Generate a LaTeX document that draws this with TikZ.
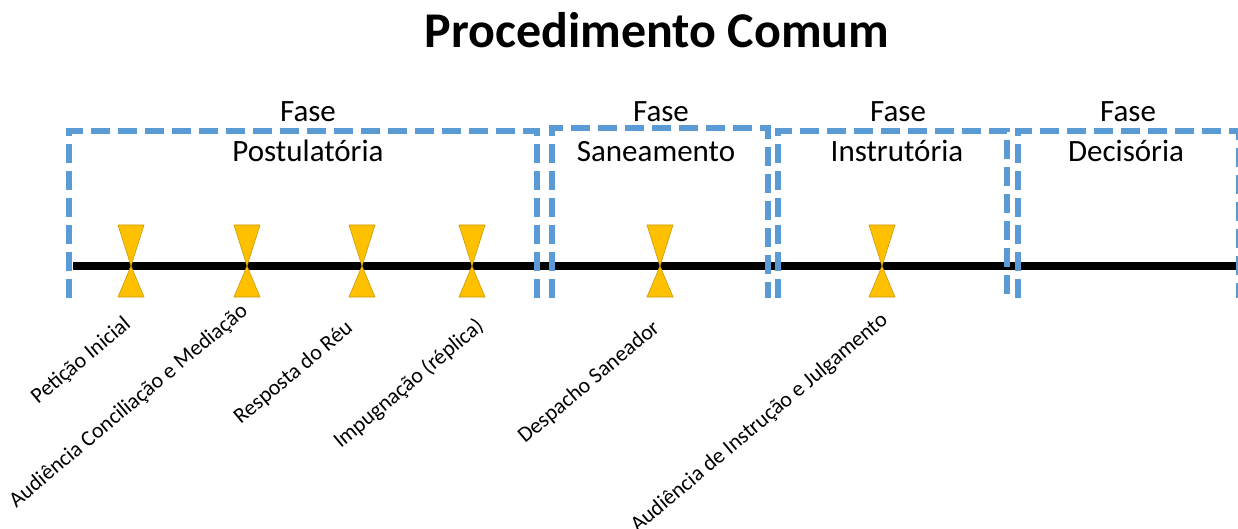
\documentclass[tikz,border=0pt]{standalone}
\usepackage{fontspec}
\setmainfont{Carlito}
\definecolor{boxblue}{HTML}{5B9BD5}
\definecolor{markgold}{HTML}{FFC000}
\definecolor{markedge}{HTML}{C99A00}
\begin{document}
\begin{tikzpicture}[x=1pt,y=-1pt,
  phasebox/.style={draw=boxblue,line width=5.5pt,dash pattern=on 19pt off 8pt},
  timeline/.style={draw=black,line width=8pt},
  hourglass/.style={fill=markgold,draw=markedge,line width=0.6pt,line join=miter},
  phasetxt/.style={font=\fontsize{31}{36}\selectfont,anchor=base,inner sep=0pt},
  eventtxt/.style={font=\fontsize{22}{26}\selectfont,anchor=base east,rotate=40,inner sep=0pt},
  titletxt/.style={font=\fontsize{50}{58}\selectfont\bfseries,anchor=base,inner sep=0pt}]
\useasboundingbox (0,0) rectangle (1238,529);

\node[titletxt] (title) at (657,48) {Procedimento Comum};

% timeline
\coordinate (tl0) at (73,266);
\coordinate (tl1) at (1238,266);
\draw[timeline] (tl0) -- (tl1);

% event markers
\foreach \n/\x in {m1/131,m2/247,m3/362,m4/472,m5/660,m6/882}{
  \coordinate (\n) at (\x,266);
  \filldraw[hourglass] (\x-13,225) -- (\x+13,225) -- (\n) -- cycle;
  \filldraw[hourglass] (\n) -- (\x+13,297) -- (\x-13,297) -- cycle;
}

% phase boxes (open at the bottom)
\draw[phasebox] (69,298) -- (69,131) -- (537,131) -- (537,298);
\draw[phasebox] (552,298) -- (552,128) -- (768,128) -- (768,298);
\draw[phasebox] (778,298) -- (778,131) -- (1007,131) -- (1007,298);
\draw[phasebox] (1018,298) -- (1018,131) -- (1239,131) -- (1239,298);

% phase titles
\node[phasetxt] (f1) at (308,122) {Fase};
\node[phasetxt] (p1) at (308,162) {Postulatória};
\node[phasetxt] (f2) at (661,122) {Fase};
\node[phasetxt] (p2) at (656,162) {Saneamento};
\node[phasetxt] (f3) at (898,122) {Fase};
\node[phasetxt] (p3) at (897,162) {Instrutória};
\node[phasetxt] (f4) at (1128,122) {Fase};
\node[phasetxt] (p4) at (1126,162) {Decisória};

% event labels
\node[eventtxt] (e1) at (132,326) {Petição Inicial};
\node[eventtxt] (e2) at (249,313) {Audiência Conciliação e Mediação};
\node[eventtxt] (e3) at (354,330) {Resposta do Réu};
\node[eventtxt] (e4) at (485,328) {Impugnação (réplica)};
\node[eventtxt] (e5) at (661,330) {Despacho Saneador};
\node[eventtxt] (e6) at (889,322) {Audiência de Instrução e Julgamento};
\end{tikzpicture}
\end{document}
